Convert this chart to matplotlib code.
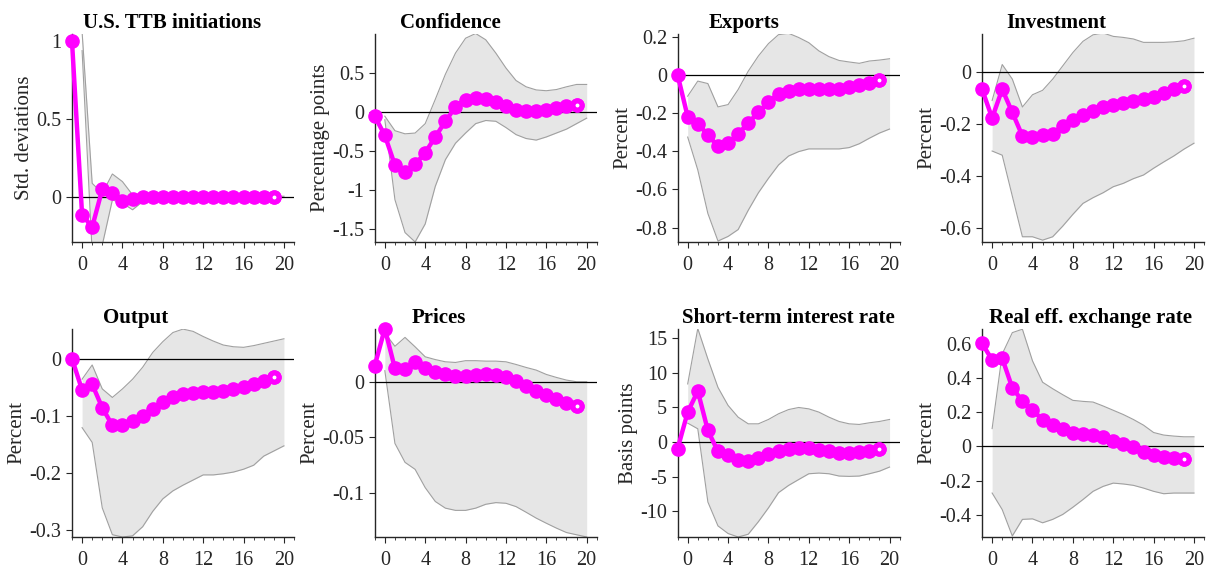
import numpy as np
import matplotlib
matplotlib.use("Agg")
import matplotlib.pyplot as plt
from matplotlib.ticker import MultipleLocator

plt.rcParams['font.family'] = ['Liberation Serif', 'DejaVu Serif']
plt.rcParams['axes.unicode_minus'] = False

# horizons: point estimate plotted at -1..19, bands at 0..20
h_line = np.arange(-1, 20)
h_band = np.arange(0, 21)

titles = ['U.S. TTB initiations', 'Confidence', 'Exports', 'Investment',
          'Output', 'Prices', 'Short-term interest rate', 'Real eff. exchange rate']
ylabels = ['Std. deviations', 'Percentage points', 'Percent', 'Percent',
           'Percent', 'Percent', 'Basis points', 'Percent']

# point estimates
ttb = [1.0, -0.115, -0.194, 0.049, 0.023, -0.028, -0.015, -0.003, 0.0, 0.0, 0.0,
       0.0, 0.0, 0.0, 0.0, 0.0, 0.0, 0.0, 0.0, 0.0, 0.0]
conf = [-0.055, -0.30, -0.68, -0.77, -0.67, -0.52, -0.32, -0.12, 0.064, 0.157, 0.18,
        0.166, 0.128, 0.072, 0.03, 0.01, 0.01, 0.026, 0.055, 0.072, 0.094]
exports = [0.0, -0.22, -0.256, -0.314, -0.375, -0.358, -0.309, -0.253, -0.196, -0.144,
           -0.10, -0.086, -0.077, -0.074, -0.074, -0.074, -0.072, -0.065, -0.056, -0.042, -0.028]
invest = [-0.067, -0.177, -0.067, -0.156, -0.246, -0.25, -0.244, -0.237, -0.208, -0.185,
          -0.165, -0.15, -0.135, -0.126, -0.118, -0.113, -0.105, -0.095, -0.082, -0.065, -0.054]
output = [0.0, -0.055, -0.045, -0.086, -0.117, -0.117, -0.11, -0.10, -0.0875, -0.076,
          -0.068, -0.062, -0.06, -0.058, -0.058, -0.056, -0.053, -0.049, -0.045, -0.039, -0.032]
prices = [0.0144, 0.048, 0.012, 0.0114, 0.0174, 0.0126, 0.0084, 0.0066, 0.0054, 0.0054,
          0.006, 0.0066, 0.006, 0.0039, 0.0009, -0.0039, -0.0081, -0.012, -0.016, -0.0195, -0.022]
rate = [-0.96, 4.33, 7.36, 1.68, -1.35, -1.92, -2.64, -2.74, -2.31, -1.68, -1.35,
        -0.96, -0.87, -0.87, -1.1, -1.35, -1.54, -1.54, -1.44, -1.35, -1.06]
reer = [0.603, 0.505, 0.515, 0.342, 0.265, 0.211, 0.157, 0.124, 0.099, 0.081, 0.072,
        0.066, 0.052, 0.031, 0.012, -0.006, -0.031, -0.05, -0.064, -0.07, -0.073]

# upper bands
ttb_hi = [1.06, 0.087, 0.023, 0.147, 0.098, 0.013, 0.004, 0.004, 0.004, 0.004, 0.004,
          0.004, 0.004, 0.004, 0.004, 0.004, 0.004, 0.004, 0.004, 0.004, 0.004]
conf_hi = [-0.055, -0.24, -0.28, -0.27, -0.15, 0.16, 0.48, 0.75, 0.94, 1.0, 0.92,
           0.75, 0.56, 0.40, 0.32, 0.28, 0.27, 0.285, 0.32, 0.35, 0.35]
exports_hi = [-0.112, -0.033, -0.046, -0.168, -0.156, -0.077, 0.019, 0.098, 0.163, 0.21,
              0.217, 0.195, 0.168, 0.125, 0.095, 0.075, 0.067, 0.06, 0.072, 0.077, 0.084]
invest_hi = [-0.11, 0.028, -0.028, -0.135, -0.088, -0.071, -0.028, 0.023, 0.074, 0.117,
             0.142, 0.149, 0.136, 0.132, 0.126, 0.113, 0.113, 0.113, 0.115, 0.119, 0.129]
output_hi = [-0.036, -0.011, -0.053, -0.068, -0.053, -0.036, -0.015, 0.011, 0.030, 0.046,
             0.052, 0.048, 0.039, 0.031, 0.024, 0.021, 0.020, 0.023, 0.027, 0.031, 0.035]
prices_hi = [0.044, 0.032, 0.040, 0.0315, 0.0225, 0.020, 0.018, 0.0174, 0.019, 0.019,
             0.0186, 0.0186, 0.018, 0.0156, 0.0129, 0.0105, 0.0066, 0.0039, 0.0015, 0.0, 0.0]
rate_hi = [8.4, 16.4, 12.0, 7.9, 5.3, 3.6, 2.64, 2.64, 3.27, 4.09, 4.7,
           5.0, 4.8, 4.33, 3.6, 2.98, 2.64, 2.55, 2.79, 2.98, 3.27]
reer_hi = [0.104, 0.54, 0.665, 0.685, 0.50, 0.375, 0.337, 0.302, 0.269, 0.263, 0.259,
           0.236, 0.211, 0.186, 0.157, 0.124, 0.081, 0.066, 0.06, 0.056, 0.056]

# lower bands
ttb_lo = [0.94, -0.36, -0.31, -0.02, -0.04, -0.083, -0.03, -0.015, -0.005, -0.004, -0.004,
          -0.004, -0.004, -0.004, -0.004, -0.004, -0.004, -0.004, -0.004, -0.004, -0.004]
conf_lo = [-0.1, -1.12, -1.54, -1.66, -1.43, -0.95, -0.61, -0.40, -0.27, -0.15, -0.11,
           -0.12, -0.20, -0.29, -0.34, -0.36, -0.32, -0.27, -0.22, -0.15, -0.08]
exports_lo = [-0.326, -0.498, -0.726, -0.87, -0.846, -0.81, -0.709, -0.618, -0.542, -0.472,
              -0.425, -0.402, -0.388, -0.388, -0.388, -0.388, -0.381, -0.361, -0.332, -0.305, -0.284]
invest_lo = [-0.304, -0.32, -0.477, -0.633, -0.633, -0.646, -0.633, -0.592, -0.547, -0.505,
             -0.483, -0.464, -0.441, -0.428, -0.41, -0.396, -0.37, -0.346, -0.323, -0.297, -0.274]
output_lo = [-0.121, -0.147, -0.262, -0.309, -0.313, -0.311, -0.295, -0.268, -0.246, -0.232,
             -0.222, -0.213, -0.204, -0.204, -0.202, -0.199, -0.194, -0.187, -0.171, -0.162, -0.153]
prices_lo = [0.01, -0.0556, -0.0727, -0.079, -0.0955, -0.108, -0.114, -0.116, -0.116, -0.114,
             -0.1105, -0.109, -0.1096, -0.1126, -0.1177, -0.123, -0.1276, -0.132, -0.136, -0.138, -0.14]
rate_lo = [2.74, 1.92, -8.65, -12.1, -13.2, -13.7, -13.3, -11.5, -9.5, -7.3, -6.25,
           -5.4, -4.57, -4.47, -4.57, -4.9, -4.95, -4.9, -4.57, -4.2, -3.6]
reer_lo = [-0.273, -0.37, -0.524, -0.427, -0.424, -0.447, -0.427, -0.398, -0.356, -0.311,
           -0.263, -0.234, -0.215, -0.22, -0.228, -0.244, -0.263, -0.277, -0.273, -0.273, -0.273]

series = [ttb, conf, exports, invest, output, prices, rate, reer]
uppers = [ttb_hi, conf_hi, exports_hi, invest_hi, output_hi, prices_hi, rate_hi, reer_hi]
lowers = [ttb_lo, conf_lo, exports_lo, invest_lo, output_lo, prices_lo, rate_lo, reer_lo]

ylims = [(-0.29, 1.05), (-1.66, 1.0), (-0.875, 0.216), (-0.653, 0.147),
         (-0.313, 0.053), (-0.14, 0.048), (-13.7, 16.4), (-0.53, 0.689)]
yticks = [[0, 0.5, 1], [-1.5, -1, -0.5, 0, 0.5], [-0.8, -0.6, -0.4, -0.2, 0, 0.2],
          [-0.6, -0.4, -0.2, 0], [-0.3, -0.2, -0.1, 0], [-0.1, -0.05, 0],
          [-10, -5, 0, 5, 10, 15], [-0.4, -0.2, 0, 0.2, 0.4, 0.6]]
# titles sit left of centre in the original
title_x = [0.45, 0.34, 0.30, 0.336, 0.285, 0.288, 0.497, 0.49]

fig = plt.figure(figsize=(12.1, 5.68), dpi=100)
lefts = [0.0595, 0.3097, 0.560, 0.8116]
bottoms = [0.574, 0.0546]
w, hgt = 0.1835, 0.367

for i in range(8):
    r, c = divmod(i, 4)
    ax = fig.add_axes([lefts[c], bottoms[r], w, hgt])
    ax.fill_between(h_band, lowers[i], uppers[i], color='#e6e6e6', lw=0, zorder=1)
    ax.plot(h_band, uppers[i], color='#a0a0a0', lw=0.8, zorder=2)
    ax.plot(h_band, lowers[i], color='#a0a0a0', lw=0.8, zorder=2)
    ax.axhline(0, color='black', lw=0.9, zorder=3)
    ax.plot(h_line, series[i], color='#ff00ff', lw=3.2, marker='o', ms=9.5,
            zorder=4, clip_on=False)
    # last marker drawn as a ring
    ax.plot(h_line[-1:], series[i][-1:], ls='none', marker='o', ms=6.5, mfc='white',
            mec='#ff00ff', mew=3.6, zorder=5)
    ax.set_xlim(-1, 21)
    ax.set_ylim(*ylims[i])
    ax.set_xticks([0, 4, 8, 12, 16, 20])
    ax.xaxis.set_minor_locator(MultipleLocator(1))
    ax.set_yticks(yticks[i])
    ax.set_yticklabels(['%g' % v for v in yticks[i]])
    for s in ['top', 'right']:
        ax.spines[s].set_visible(False)
    for s in ['left', 'bottom']:
        ax.spines[s].set_color('#262626')
        ax.spines[s].set_linewidth(1.0)
    ax.tick_params(axis='both', which='major', direction='out', length=4,
                   labelsize=14.5, colors='#262626')
    ax.tick_params(axis='x', which='major', pad=6)
    ax.tick_params(axis='x', which='minor', direction='out', length=2.5, color='#262626')
    ax.set_title(titles[i], fontsize=15, fontweight='bold', pad=4, x=title_x[i])
    ax.set_ylabel(ylabels[i], fontsize=15, color='#262626', labelpad=2)

fig.savefig('out.png', dpi=100)
